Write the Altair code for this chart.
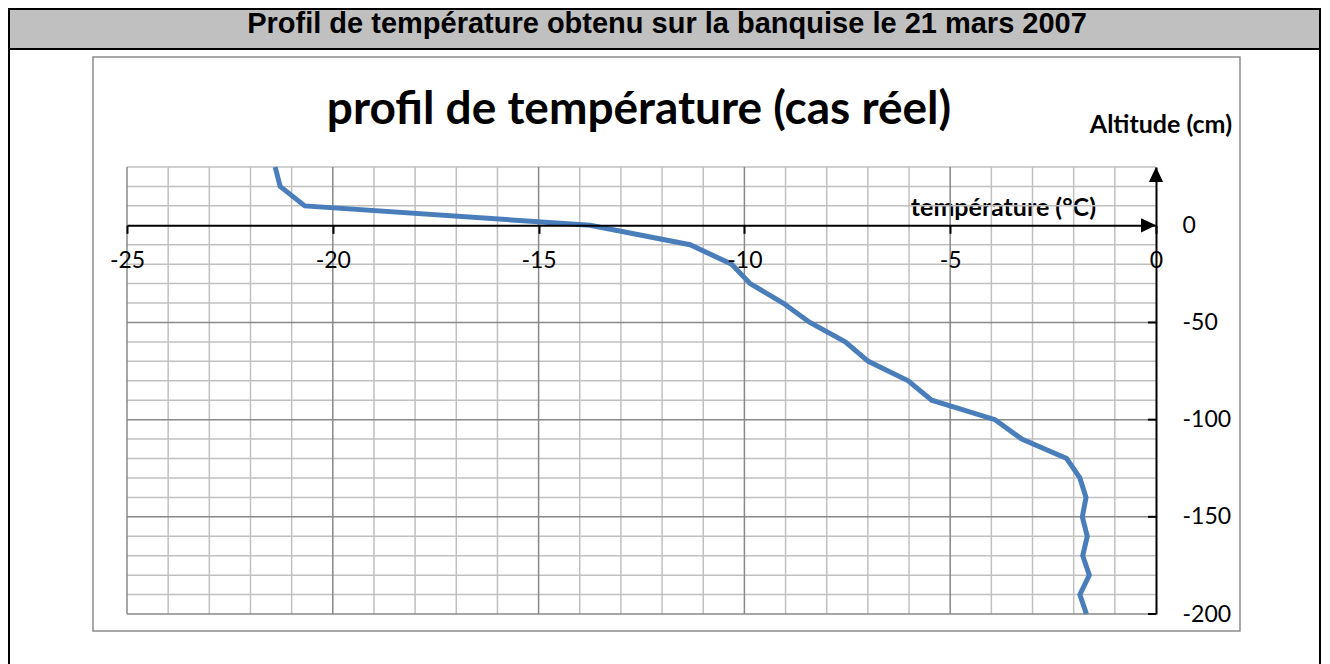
import altair as alt
import pandas as pd

# ---- data ----
temperature = [-21.40, -21.28, -20.68, -13.75, -11.32, -10.31, -9.86, -9.06,
               -8.41, -7.55, -6.99, -6.02, -5.45, -3.91, -3.26, -2.17,
               -1.85, -1.70, -1.79, -1.67, -1.78, -1.62, -1.85, -1.69]
altitude = [30, 20, 10, 0, -10, -20, -30, -40, -50, -60, -70, -80, -90,
            -100, -110, -120, -130, -140, -150, -160, -170, -180, -190, -200]

x_domain = [-25, 0]
y_domain = [-200, 30]
x_ticks = [-25, -20, -15, -10, -5, 0]
y_ticks = [-200, -150, -100, -50, 0]
y_inner_ticks = [-200, -150, -100, -50]
x_minor = [-24, -23, -22, -21, -19, -18, -17, -16, -14, -13, -12, -11,
           -9, -8, -7, -6, -4, -3, -2, -1]
x_major = [-25, -20, -15, -10, -5]
y_minor = [-190, -180, -170, -160, -140, -130, -120, -110, -90, -80, -70,
           -60, -40, -30, -20, -10, 10, 20, 30]
y_major = [-200, -150, -100, -50]

header_text = "Profil de température obtenu sur la banquise le 21 mars 2007"
chart_title = "profil de température (cas réel)"
y_title = "Altitude (cm)"
x_title = "température (°C)"

W, H = 1029, 447

df = pd.DataFrame({"idx": list(range(len(temperature))),
                   "temperature": temperature, "altitude": altitude})
one = pd.DataFrame({"k": [0]})

xscale = alt.Scale(domain=x_domain, nice=False, zero=False)
yscale = alt.Scale(domain=y_domain, nice=False, zero=False)

x_axis_offset = -H * (0 - y_domain[0]) / (y_domain[1] - y_domain[0])

xaxis = alt.Axis(values=x_ticks, orient="bottom", offset=x_axis_offset, title=None,
                 grid=False, domainColor="black", domainWidth=2, tickColor="black",
                 tickWidth=2, tickSize=8, labelFont="Lato", labelFontSize=23,
                 labelColor="black", labelPadding=16, labelFlush=False,
                 labelOverlap=False, labelExpr="'' + datum.value", zindex=1)
yaxis = alt.Axis(values=y_ticks, orient="right", title=None, grid=False,
                 domainColor="black", domainWidth=2, ticks=False, tickSize=0,
                 labelPadding=26, labelFont="Lato", labelFontSize=23,
                 labelColor="black", labelFlush=False, labelOverlap=False,
                 labelBaseline="middle", labelExpr="'' + datum.value", zindex=1)


def X(field):
    return alt.X(field, type="quantitative", scale=xscale, axis=xaxis)


def Y(field):
    return alt.Y(field, type="quantitative", scale=yscale, axis=yaxis)


# ---- decoration (page frame) ----
band = alt.Chart(one).mark_rect(fill="#c0c0c0").encode(
    x=alt.value(-119), x2=alt.value(1194), y=alt.value(-159), y2=alt.value(-118))
black_lines = [
    alt.Chart(one).mark_rect(fill="black").encode(
        x=alt.value(-119), x2=alt.value(1194), y=alt.value(-159), y2=alt.value(-157)),
    alt.Chart(one).mark_rect(fill="black").encode(
        x=alt.value(-119), x2=alt.value(1194), y=alt.value(-119), y2=alt.value(-117)),
    alt.Chart(one).mark_rect(fill="black").encode(
        x=alt.value(-119), x2=alt.value(-117), y=alt.value(-159), y2=alt.value(497)),
    alt.Chart(one).mark_rect(fill="black").encode(
        x=alt.value(1192), x2=alt.value(1194), y=alt.value(-159), y2=alt.value(497)),
]
frame = alt.Chart(one).mark_rect(fill="white", stroke="#8c8c8c", strokeWidth=1.5).encode(
    x=alt.value(-34), x2=alt.value(1113), y=alt.value(-110), y2=alt.value(464))

header = alt.Chart(one).mark_text(
    text=header_text, font="Liberation Sans", fontWeight="bold", fontSize=29,
    align="center", baseline="alphabetic", color="black").encode(
    x=alt.value(540), y=alt.value(-134))
title = alt.Chart(one).mark_text(
    text=chart_title, font="Lato", fontWeight="bold", fontSize=46,
    align="center", baseline="alphabetic", color="black").encode(
    x=alt.value(512), y=alt.value(-43))
ytitle = alt.Chart(one).mark_text(
    text=y_title, font="Lato", fontWeight="bold", fontSize=25,
    align="right", baseline="alphabetic", color="black").encode(
    x=alt.value(1105), y=alt.value(-34))
xtitle = alt.Chart(one).mark_text(
    text=x_title, font="Lato", fontWeight="bold", fontSize=25,
    align="right", baseline="alphabetic", color="black").encode(
    x=alt.value(969), y=alt.value(49))

# ---- grid ----
gx_minor = alt.Chart(pd.DataFrame({"v": x_minor})).mark_rule(
    color="#c0c0c0", strokeWidth=1.5).encode(x=X("v"))
gx_major = alt.Chart(pd.DataFrame({"v": x_major})).mark_rule(
    color="#888888", strokeWidth=1.5).encode(x=X("v"))
gy_minor = alt.Chart(pd.DataFrame({"v": y_minor})).mark_rule(
    color="#c0c0c0", strokeWidth=1.5).encode(y=Y("v"))
gy_major = alt.Chart(pd.DataFrame({"v": y_major})).mark_rule(
    color="#888888", strokeWidth=1.5).encode(y=Y("v"))

# inward ticks on the altitude axis
yticks_df = pd.DataFrame({"v": y_inner_ticks, "x0": [x_domain[1]] * len(y_inner_ticks)})
yticks = alt.Chart(yticks_df).mark_rule(color="black", strokeWidth=2, xOffset=-8).encode(
    x=X("x0"), x2="x0", y=Y("v"))

# arrows at axis ends
arrow_x = alt.Chart(pd.DataFrame({"x": [x_domain[1]], "y": [0]})).mark_point(
    shape="M1,0L-1,-0.95L-1,0.95Z", size=225, filled=True, color="black",
    opacity=1, xOffset=-7.5).encode(x=X("x"), y=Y("y"))
arrow_y = alt.Chart(pd.DataFrame({"x": [x_domain[1]], "y": [y_domain[1]]})).mark_point(
    shape="M0,-1L0.95,1L-0.95,1Z", size=225, filled=True, color="black",
    opacity=1, yOffset=7.5).encode(x=X("x"), y=Y("y"))

line = alt.Chart(df).mark_line(color="#4a7ebb", strokeWidth=5).encode(
    x=X("temperature"), y=Y("altitude"), order="idx:Q")

chart = alt.layer(
    band, *black_lines, frame, header, title, ytitle, xtitle,
    gx_minor, gy_minor, gx_major, gy_major, line, yticks, arrow_x, arrow_y
).properties(
    width=W, height=H,
    autosize=alt.AutoSizeParams(type="none"),
    padding={"left": 119, "top": 159, "right": 166, "bottom": 50},
    background="white",
).configure_view(stroke=None)

chart.save("out.html", embed_options={"renderer": "svg", "actions": False})
